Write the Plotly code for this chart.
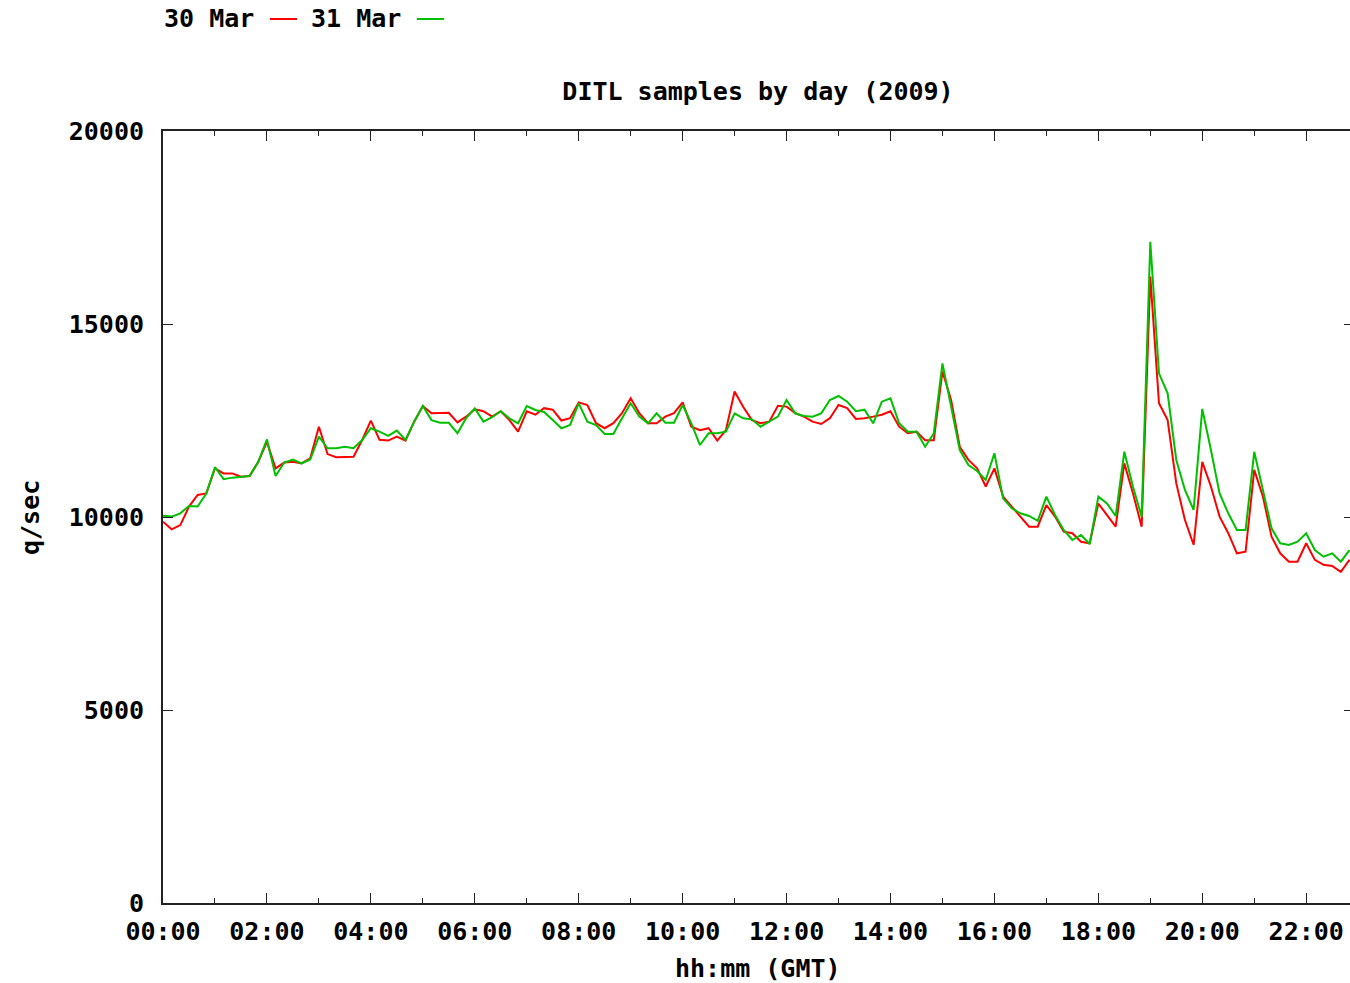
import plotly.graph_objects as go

# ---- data (10-minute samples, q/sec) ----
sample_minutes = list(range(0, 1380, 10))  # 00:00 .. 22:50

mar30 = [
    9880, 9680, 9790, 10270, 10570, 10610, 11260, 11130, 11130, 11045, 11060, 11430,
    11950, 11260, 11410, 11430, 11390, 11520, 12340, 11630, 11550, 11550, 11560, 11995,
    12495, 12000, 11980, 12080, 11980, 12470, 12876, 12690, 12690, 12700, 12450, 12600,
    12790, 12740, 12600, 12740, 12510, 12210, 12740, 12650, 12820, 12780, 12500, 12560,
    12970, 12900, 12430, 12300, 12430, 12690, 13075, 12690, 12430, 12430, 12600, 12690,
    12970, 12340, 12250, 12300, 11980, 12250, 13250, 12850, 12510, 12430, 12470, 12880,
    12860, 12690, 12600, 12470, 12410, 12560, 12900, 12820, 12540, 12560, 12600, 12650,
    12740, 12340, 12170, 12210, 11990, 11990, 13770, 13030, 11820, 11480, 11260, 10790,
    11260, 10530, 10270, 10010, 9750, 9750, 10310, 10010, 9620, 9580, 9360, 9320,
    10350, 10050, 9750, 11390, 10610, 9750, 16230, 12950, 12510, 10870, 9920, 9280,
    11430, 10790, 10010, 9580, 9060, 9100, 11220, 10530, 9490, 9060, 8840, 8840,
    9320, 8890, 8760, 8730, 8580, 8890,
]

mar31 = [
    10030, 10010, 10095, 10285, 10270, 10610, 11290, 10980, 11020, 11045, 11060, 11430,
    12010, 11060, 11410, 11490, 11390, 11490, 12080, 11780, 11780, 11820, 11780, 11995,
    12300, 12210, 12100, 12240, 11995, 12470, 12876, 12510, 12440, 12440, 12170, 12560,
    12815, 12470, 12585, 12740, 12556, 12427, 12876, 12772, 12720, 12513, 12297, 12384,
    12945, 12470, 12384, 12151, 12151, 12556, 12945, 12600, 12427, 12686, 12444, 12444,
    12901, 12427, 11865, 12168, 12168, 12211, 12686, 12556, 12530, 12340, 12470, 12600,
    13031, 12686, 12617, 12600, 12686, 13031, 13135, 12988, 12740, 12781, 12427, 12988,
    13075, 12427, 12211, 12211, 11822, 12168, 13980, 12860, 11735, 11347, 11192, 10959,
    11650, 10484, 10225, 10095, 10026, 9900, 10527, 10052, 9663, 9404, 9534, 9300,
    10527, 10354, 10026, 11693, 10786, 10009, 17130, 13722, 13204, 11477, 10700, 10182,
    12800, 11736, 10613, 10095, 9663, 9663, 11688, 10700, 9706, 9318, 9275, 9361,
    9577, 9145, 8972, 9058, 8842, 9145,
]

series_names = ["30 Mar", "31 Mar"]
series_colors = ["#ff0000", "#00c000"]

x_tick_hours = list(range(0, 24, 2))
x_tick_labels = ["%02d:00" % h for h in x_tick_hours]
x_minor_hours = list(range(1, 24, 2))
y_tick_vals = [0, 5000, 10000, 15000, 20000]

hours = [m / 60.0 for m in sample_minutes]

W, H = 1350, 983
L, R, T, B = 163, 0, 131, 80
FONT = "DejaVu Sans Mono"
FS = 25
AX = "#222222"

fig = go.Figure()
for name, vals, col, yax in zip(series_names, [mar30, mar31], series_colors, ["y", "y2"]):
    fig.add_trace(go.Scatter(x=hours, y=vals, mode="lines", name=name, yaxis=yax,
                             line=dict(color=col, width=2), showlegend=False))

x_end = (W - L) / ((1306.5 - 163.3) / 22.0)  # axis spans to the right edge

tickfont = dict(family=FONT, size=FS, color="black", weight="bold")
fig.update_layout(
    width=W, height=H,
    margin=dict(l=L, r=R, t=T, b=B, pad=0),
    paper_bgcolor="white", plot_bgcolor="white",
    font=dict(family=FONT, size=FS, color="black", weight="bold"),
    title=dict(text="DITL samples by day (2009)", x=758 / W, xanchor="center",
               y=1 - 91 / H, yanchor="middle",
               font=dict(family=FONT, size=FS, color="black", weight="bold")),
    xaxis=dict(range=[0, x_end], showgrid=False, zeroline=False,
               showline=True, linecolor=AX, linewidth=2, mirror="ticks",
               ticks="inside", ticklen=10, tickwidth=1, tickcolor=AX,
               tickvals=x_tick_hours, ticktext=x_tick_labels,
               ticklabelstandoff=5,
               minor=dict(tickvals=x_minor_hours, ticks="inside", ticklen=5,
                          tickwidth=1, tickcolor=AX),
               tickfont=tickfont),
    yaxis=dict(range=[0, 20000], showgrid=False, zeroline=False,
               showline=True, linecolor=AX, linewidth=2, mirror=False,
               ticks="inside", ticklen=10, tickwidth=1, tickcolor=AX,
               tickvals=y_tick_vals, ticktext=[str(v) for v in y_tick_vals],
               ticklabelstandoff=12, tickfont=tickfont),
    yaxis2=dict(range=[0, 20000], overlaying="y", side="right", showgrid=False,
                zeroline=False, showline=False, ticks="inside", ticklen=6,
                tickwidth=1, tickcolor=AX, tickvals=y_tick_vals,
                showticklabels=False),
)

def px_x(px):
    return (px - L) / (W - L - R)

def px_y(py):
    return (H - B - py) / (H - T - B)

anns = [
    dict(text="hh:mm (GMT)", x=px_x(758), y=px_y(968), xanchor="center", yanchor="middle"),
    dict(text="q/sec", x=px_x(30), y=px_y(518), xanchor="center", yanchor="middle",
         textangle=-90),
]
shapes = []
legend_text_x = [162, 309]
legend_line_x = [(270, 297), (417, 444)]
for name, col, tx, (lx0, lx1) in zip(series_names, series_colors, legend_text_x, legend_line_x):
    anns.append(dict(text=name, x=px_x(tx), y=px_y(19), xanchor="left", yanchor="middle"))
    shapes.append(dict(type="line", xref="paper", yref="paper",
                       x0=px_x(lx0), x1=px_x(lx1), y0=px_y(19), y1=px_y(19),
                       line=dict(color=col, width=2)))
for a in anns:
    a.update(xref="paper", yref="paper", showarrow=False,
             font=dict(family=FONT, size=FS, color="black", weight="bold"))
fig.update_layout(annotations=anns, shapes=shapes)

fig.write_html("out.html")
